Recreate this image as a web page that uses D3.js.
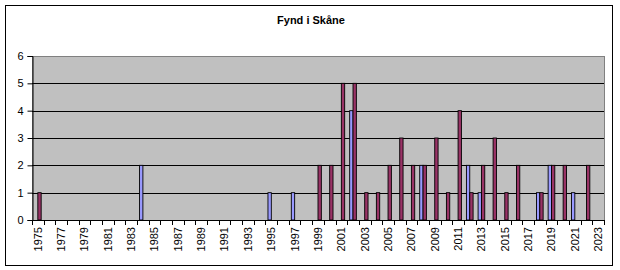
<!DOCTYPE html>
<html>
<head>
<meta charset="utf-8">
<script src="https://cdn.jsdelivr.net/npm/d3@7"></script>
<style>
  html, body { margin: 0; padding: 0; background: #ffffff; }
  svg { display: block; font-family: "Liberation Sans", Arial, sans-serif; }
</style>
</head>
<body>
<div id="chart"></div>
<script>
// Fynd i Skåne — two series per year, Excel style clustered columns

const years = d3.range(1975, 2024);           // 1975 .. 2023
const seriesNames = ['serie1', 'serie2'];
const seriesColors = ['#9999ff', '#993366'];

// finds per year, blue series (left bar)
const serie1 = [
  0, 0, 0, 0, 0, 0, 0, 0, 0, 2,   // 1975-1984
  0, 0, 0, 0, 0, 0, 0, 0, 0, 0,   // 1985-1994
  1, 0, 1, 0, 0, 0, 0, 4, 0, 0,   // 1995-2004
  0, 0, 0, 2, 0, 0, 0, 2, 1, 0,   // 2005-2014
  0, 0, 0, 1, 2, 0, 1, 0, 0       // 2015-2023
];
// finds per year, maroon series (right bar)
const serie2 = [
  1, 0, 0, 0, 0, 0, 0, 0, 0, 0,   // 1975-1984
  0, 0, 0, 0, 0, 0, 0, 0, 0, 0,   // 1985-1994
  0, 0, 0, 0, 2, 2, 5, 5, 1, 1,   // 1995-2004
  2, 3, 2, 2, 3, 1, 4, 1, 2, 3,   // 2005-2014
  1, 2, 0, 1, 2, 2, 0, 2, 0       // 2015-2023
];
const yTicks = [0, 1, 2, 3, 4, 5, 6];
const title = 'Fynd i Skåne';

const W = 620, H = 270;
const plot = { left: 32, top: 56, right: 604, bottom: 220 };

const svg = d3.select('#chart').append('svg')
    .attr('width', W)
    .attr('height', H);

// outer chart frame
svg.append('rect')
    .attr('x', 5.5).attr('y', 5.5)
    .attr('width', 607).attr('height', 260)
    .attr('fill', '#ffffff')
    .attr('stroke', '#000000')
    .attr('stroke-width', 1);

svg.append('text')
    .attr('x', 311)
    .attr('y', 24)
    .attr('text-anchor', 'middle')
    .attr('font-size', '11px')
    .attr('font-weight', 'bold')
    .attr('fill', '#000000')
    .text(title);

// scales
const x = d3.scaleBand()
    .domain(years)
    .range([plot.left, plot.right])
    .padding(0);

const bw = x.bandwidth();
const gap = bw * 1.5 / 3.5;   // gap width 150%
const xInner = d3.scaleBand()
    .domain(seriesNames)
    .range([gap / 2, bw - gap / 2])
    .padding(0);

const y = d3.scaleLinear()
    .domain([0, 6])
    .range([plot.bottom, plot.top]);

// plot area
svg.append('rect')
    .attr('x', plot.left).attr('y', plot.top)
    .attr('width', plot.right - plot.left)
    .attr('height', plot.bottom - plot.top)
    .attr('fill', '#c0c0c0')
    .attr('stroke', '#808080')
    .attr('stroke-width', 1)
    .attr('shape-rendering', 'crispEdges');

// gridlines
svg.append('g')
    .selectAll('line')
    .data(yTicks.filter(d => d > 0 && d < 6))
    .join('line')
    .attr('x1', plot.left).attr('x2', plot.right)
    .attr('y1', d => Math.round(y(d)) + 0.5)
    .attr('y2', d => Math.round(y(d)) + 0.5)
    .attr('stroke', '#000000')
    .attr('stroke-width', 1);

// bars
const rows = years.map((yr, i) => ({ year: yr, values: [serie1[i], serie2[i]] }));

const groups = svg.append('g')
    .selectAll('g')
    .data(rows)
    .join('g')
    .attr('transform', d => 'translate(' + x(d.year) + ',0)');

groups.selectAll('rect')
    .data(d => d.values.map((v, k) => ({ name: seriesNames[k], value: v, color: seriesColors[k] })).filter(d => d.value > 0))
    .join('rect')
    .attr('x', d => xInner(d.name))
    .attr('y', d => y(d.value))
    .attr('width', xInner.bandwidth())
    .attr('height', d => plot.bottom - y(d.value))
    .attr('fill', d => d.color)
    .attr('stroke', '#000000')
    .attr('stroke-width', 0.9);

// y axis
const yAxis = svg.append('g')
    .attr('transform', 'translate(' + (plot.left + 0.5) + ',0)')
    .call(d3.axisLeft(y).tickValues(yTicks).tickSize(5).tickPadding(4).tickFormat(d3.format('d')));
yAxis.select('.domain').attr('stroke', '#000000');
yAxis.selectAll('.tick line').attr('stroke', '#000000');
yAxis.selectAll('.tick text')
    .attr('font-size', '11px')
    .attr('font-family', '"Liberation Sans", Arial, sans-serif')
    .attr('fill', '#000000');

// x axis line
svg.append('line')
    .attr('x1', plot.left).attr('x2', plot.right)
    .attr('y1', plot.bottom + 0.5).attr('y2', plot.bottom + 0.5)
    .attr('stroke', '#000000');

// category boundary ticks
svg.append('g')
    .selectAll('line')
    .data(years.concat([null]))
    .join('line')
    .attr('x1', d => Math.round(d === null ? plot.right : x(d)) + 0.5)
    .attr('x2', d => Math.round(d === null ? plot.right : x(d)) + 0.5)
    .attr('y1', plot.bottom)
    .attr('y2', plot.bottom + 5)
    .attr('stroke', '#000000');

// x labels, every second year, rotated
svg.append('g')
    .selectAll('text')
    .data(years.filter((d, i) => i % 2 === 0))
    .join('text')
    .attr('transform', d => 'translate(' + (x(d) + bw / 2) + ',' + (plot.bottom + 7) + ') rotate(-90)')
    .attr('text-anchor', 'end')
    .attr('dy', '0.35em')
    .attr('font-size', '11px')
    .attr('fill', '#000000')
    .text(d => d);
</script>
</body>
</html>
